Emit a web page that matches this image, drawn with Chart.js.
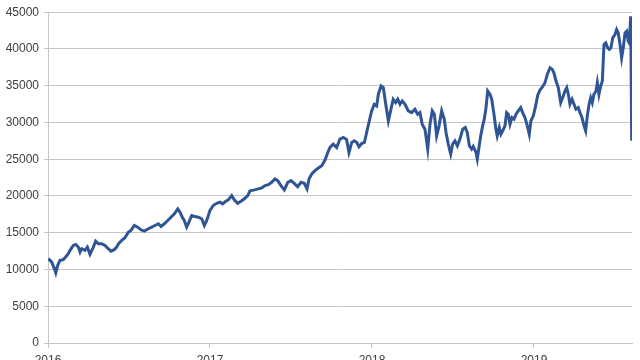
<!DOCTYPE html>
<html>
<head>
<meta charset="utf-8">
<script src="https://cdn.jsdelivr.net/npm/chart.js@4/dist/chart.umd.min.js"></script>
<style>
  html, body { margin: 0; padding: 0; background: #fff; }
  #wrap { width: 640px; height: 360px; }
</style>
</head>
<body>
<div id="wrap"><canvas id="priceChart"></canvas></div>
<script>
/* ---------- DATA ---------- */
// dates as decimal years
const years = [
  2016.002, 2016.023, 2016.039, 2016.048, 2016.060, 2016.074, 2016.094, 2016.109, 2016.125, 2016.136,
  2016.156, 2016.171, 2016.187, 2016.198, 2016.208, 2016.228, 2016.243, 2016.259, 2016.280, 2016.294,
  2016.310, 2016.331, 2016.352, 2016.372, 2016.389, 2016.409, 2016.424, 2016.438, 2016.455, 2016.475,
  2016.496, 2016.512, 2016.533, 2016.554, 2016.574, 2016.594, 2016.619, 2016.640, 2016.660, 2016.681,
  2016.698, 2016.718, 2016.739, 2016.759, 2016.780, 2016.801, 2016.815, 2016.829, 2016.841, 2016.856,
  2016.870, 2016.887, 2016.907, 2016.928, 2016.949, 2016.965, 2016.980, 2017.000, 2017.020, 2017.041,
  2017.062, 2017.078, 2017.097, 2017.113, 2017.134, 2017.150, 2017.171, 2017.191, 2017.212, 2017.233,
  2017.247, 2017.269, 2017.298, 2017.319, 2017.340, 2017.360, 2017.381, 2017.401, 2017.418, 2017.438,
  2017.459, 2017.480, 2017.500, 2017.520, 2017.541, 2017.562, 2017.582, 2017.599, 2017.611, 2017.628,
  2017.648, 2017.669, 2017.690, 2017.710, 2017.727, 2017.741, 2017.761, 2017.782, 2017.802, 2017.823,
  2017.843, 2017.858, 2017.875, 2017.891, 2017.906, 2017.920, 2017.936, 2017.953, 2017.967, 2017.981,
  2017.998, 2018.014, 2018.029, 2018.039, 2018.056, 2018.070, 2018.085, 2018.101, 2018.117, 2018.131,
  2018.146, 2018.159, 2018.173, 2018.187, 2018.204, 2018.224, 2018.245, 2018.265, 2018.282, 2018.296,
  2018.310, 2018.327, 2018.344, 2018.358, 2018.372, 2018.385, 2018.399, 2018.414, 2018.430, 2018.446,
  2018.457, 2018.471, 2018.486, 2018.498, 2018.512, 2018.527, 2018.543, 2018.560, 2018.576, 2018.588,
  2018.601, 2018.615, 2018.625, 2018.642, 2018.650, 2018.662, 2018.671, 2018.683, 2018.693, 2018.704,
  2018.714, 2018.728, 2018.739, 2018.753, 2018.765, 2018.773, 2018.786, 2018.796, 2018.807, 2018.821,
  2018.831, 2018.841, 2018.852, 2018.864, 2018.877, 2018.889, 2018.903, 2018.918, 2018.930, 2018.944,
  2018.959, 2018.971, 2018.981, 2018.996, 2019.010, 2019.023, 2019.037, 2019.052, 2019.068, 2019.082,
  2019.099, 2019.113, 2019.123, 2019.136, 2019.150, 2019.165, 2019.177, 2019.191, 2019.202, 2019.212,
  2019.222, 2019.235, 2019.247, 2019.259, 2019.273, 2019.284, 2019.296, 2019.309, 2019.319, 2019.329,
  2019.340, 2019.350, 2019.360, 2019.370, 2019.383, 2019.391, 2019.401, 2019.412, 2019.422, 2019.432,
  2019.443, 2019.455, 2019.465, 2019.475, 2019.486, 2019.500, 2019.510, 2019.520, 2019.531, 2019.541,
  2019.551, 2019.562, 2019.572, 2019.582, 2019.588, 2019.597, 2019.603
];

const values = [
  11480, 11000, 10120, 9530, 10570, 11250, 11340, 11700, 12150, 12600,
  13280, 13410, 13050, 12370, 12830, 12600, 13050, 12060, 13050, 13860,
  13510, 13500, 13280, 12830, 12500, 12700, 13050, 13590, 13950, 14320,
  15080, 15310, 15990, 15760, 15400, 15220, 15540, 15760, 15990, 16220,
  15850, 16220, 16670, 17110, 17570, 18250, 17790, 17110, 16670, 15760,
  16440, 17340, 17210, 17110, 16900, 15990, 16670, 18040, 18700, 19010,
  19150, 18930, 19280, 19470, 20050, 19470, 19010, 19280, 19610, 20050,
  20700, 20800, 20960, 21100, 21410, 21540, 21860, 22310, 22090, 21410,
  20830, 21860, 22090, 21720, 21270, 21860, 21720, 20960, 22310, 22990,
  23440, 23810, 24120, 24890, 25920, 26600, 27060, 26600, 27740, 27960,
  27700, 25900, 27280, 27500, 27280, 26690, 27140, 27280, 28630, 29990,
  31570, 32480, 32250, 33830, 34960, 34730, 32480, 30220, 31800, 33160,
  32700, 33160, 32480, 32930, 32480, 31570, 31340, 31800, 31120, 31340,
  29770, 29090, 26380, 29770, 31570, 31120, 28180, 29540, 31570, 30450,
  28630, 27060, 25700, 27060, 27500, 26830, 27740, 29090, 29310, 28630,
  26830, 26380, 26740, 25920, 25030, 26830, 28180, 29540, 30450, 32020,
  34280, 33830, 33160, 31120, 29090, 28180, 29310, 28410, 28860, 29540,
  31340, 31120, 29770, 30670, 30450, 31120, 31570, 32020, 31340, 30670,
  29540, 28410, 30220, 30900, 32250, 33700, 34400, 34850, 35410, 36540,
  37440, 37220, 36760, 35640, 34730, 32700, 33370, 34280, 34730, 33830,
  32480, 33160, 32480, 31800, 32020, 31340, 30670, 29540, 28860, 30900,
  32480, 33370, 32700, 33830, 34280, 35410, 33830, 34960, 35640, 40610,
  40830, 40150, 39930, 40150, 41500, 41960, 42640, 42180, 40610, 38800,
  40150, 42180, 42410, 41050, 40830, 44440, 27510
];

const yTicks = [0, 5000, 10000, 15000, 20000, 25000, 30000, 35000, 40000, 45000];
const xTicks = [2016, 2017, 2018, 2019];

/* ---------- CHART ---------- */
const points = years.map((x, i) => ({ x: x, y: values[i] }));

new Chart(document.getElementById("priceChart"), {
  type: "line",
  data: {
    datasets: [
      {
        data: points,
        borderColor: "#2f5597",
        borderWidth: 3,
        pointRadius: 0,
        tension: 0,
        fill: false
      }
    ]
  },
  options: {
    responsive: true,
    maintainAspectRatio: false,
    animation: false,
    layout: {
      padding: { top: 11, right: 8, left: 0, bottom: 0 }
    },
    plugins: {
      legend: { display: false },
      tooltip: { enabled: false }
    },
    scales: {
      x: {
        type: "linear",
        min: xTicks[0],
        max: 2019.605,
        afterFit: s => { s.height = 17; },
        afterBuildTicks: s => { s.ticks = xTicks.map(v => ({ value: v })); },
        ticks: {
          color: "#404040",
          font: { family: "Liberation Sans", size: 12 },
          padding: 5,
          maxRotation: 0,
          callback: v => String(v)
        },
        grid: {
          drawOnChartArea: false,
          drawTicks: true,
          tickLength: 5,
          color: "#c6c6c6"
        },
        border: { color: "#c6c6c6", width: 1 }
      },
      y: {
        min: 0,
        max: 45000,
        afterFit: s => { s.width = 48; },
        afterBuildTicks: s => { s.ticks = yTicks.map(v => ({ value: v })); },
        ticks: {
          color: "#404040",
          font: { family: "Liberation Sans", size: 12 },
          padding: 5,
          callback: v => String(v)
        },
        grid: {
          color: "#c6c6c6",
          tickLength: 4
        },
        border: { color: "#c6c6c6", width: 1 }
      }
    }
  }
});
</script>
</body>
</html>
